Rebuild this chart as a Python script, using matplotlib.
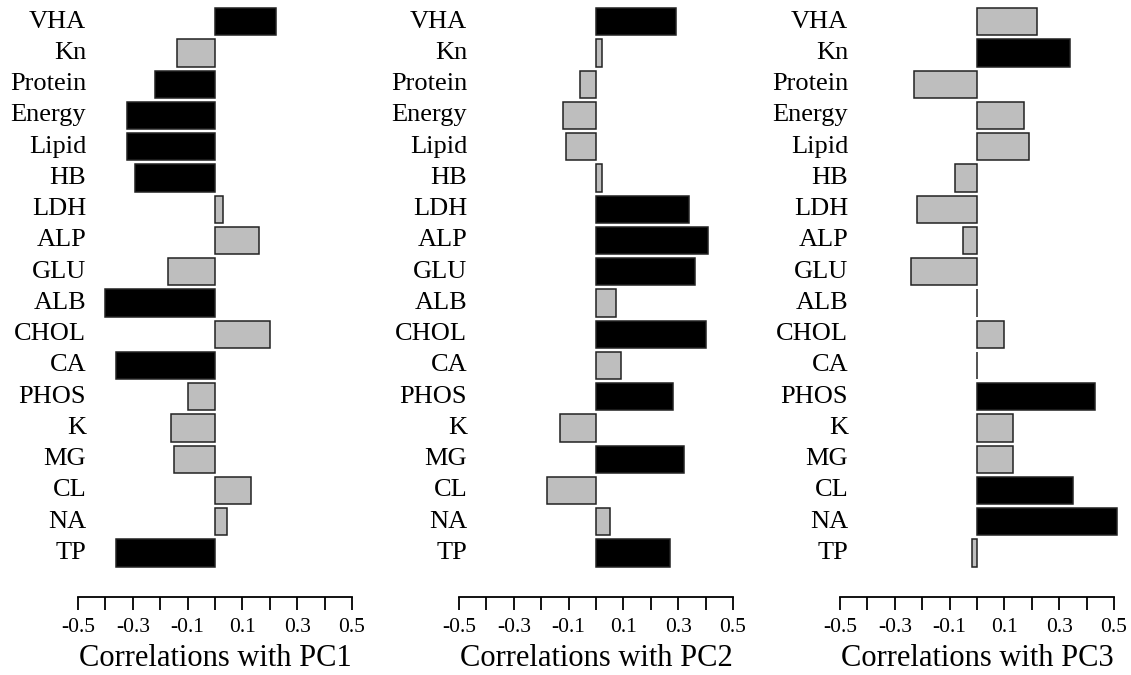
import numpy as np
import matplotlib.pyplot as plt

plt.rcParams['font.family'] = ['Liberation Serif', 'DejaVu Serif']

# variables, top to bottom
variables = ['VHA', 'Kn', 'Protein', 'Energy', 'Lipid', 'HB', 'LDH', 'ALP', 'GLU',
             'ALB', 'CHOL', 'CA', 'PHOS', 'K', 'MG', 'CL', 'NA', 'TP']

pc1 = [0.223, -0.14, -0.22, -0.321, -0.321, -0.292, 0.03, 0.162, -0.17,
       -0.40, 0.202, -0.362, -0.10, -0.161, -0.151, 0.131, 0.043, -0.362]
pc2 = [0.293, 0.022, -0.058, -0.12, -0.109, 0.022, 0.34, 0.41, 0.362,
       0.073, 0.402, 0.092, 0.282, -0.13, 0.321, -0.178, 0.052, 0.27]
pc3 = [0.218, 0.341, -0.229, 0.171, 0.19, -0.08, -0.218, -0.051, -0.241,
       0.0, 0.10, 0.0, 0.43, 0.131, 0.131, 0.35, 0.51, -0.018]

# 1 = highlighted (black) loading
sig1 = [1, 0, 1, 1, 1, 1, 0, 0, 0, 1, 0, 1, 0, 0, 0, 0, 0, 1]
sig2 = [1, 0, 0, 0, 0, 0, 1, 1, 1, 0, 1, 0, 1, 0, 1, 0, 0, 1]
sig3 = [0, 1, 0, 0, 0, 0, 0, 0, 0, 0, 0, 0, 1, 0, 0, 1, 1, 0]

titles = ['Correlations with PC1', 'Correlations with PC2', 'Correlations with PC3']

fig = plt.figure(figsize=(11.31, 6.75), dpi=100)

W, H = 1131, 675
n = len(variables)
ypos = np.arange(n)[::-1]
lefts = [67, 448, 829]

for k, (vals, sig, title) in enumerate(zip([pc1, pc2, pc3], [sig1, sig2, sig3], titles)):
    ax = fig.add_axes([lefts[k] / W, (H - 597) / H, 296 / W, 595 / H])
    colors = ['black' if s else '#bebebe' for s in sig]
    ax.barh(ypos, vals, height=0.87, color=colors, edgecolor='#222222', linewidth=1.1)
    for y, lab in zip(ypos, variables):
        ax.text(-0.47, y, lab, ha='right', va='center', fontsize=19)
    ax.set_xlim(-0.54, 0.54)
    ax.set_ylim(-1.41, n - 0.37)
    for s in ['top', 'right', 'left']:
        ax.spines[s].set_visible(False)
    ax.spines['bottom'].set_bounds(-0.5, 0.5)
    ax.spines['bottom'].set_linewidth(1.3)
    ax.set_yticks([])
    ax.set_xticks(np.round(np.arange(-0.5, 0.51, 0.1), 1))
    ax.set_xticklabels([('%.1f' % t) if i % 2 == 0 else '' for i, t in
                        enumerate(np.arange(-0.5, 0.51, 0.1))], fontsize=15.5)
    ax.tick_params(axis='x', length=9, width=1.3, pad=6)
    ax.set_xlabel(title, fontsize=22, labelpad=5)

plt.savefig('out.png', dpi=100)
